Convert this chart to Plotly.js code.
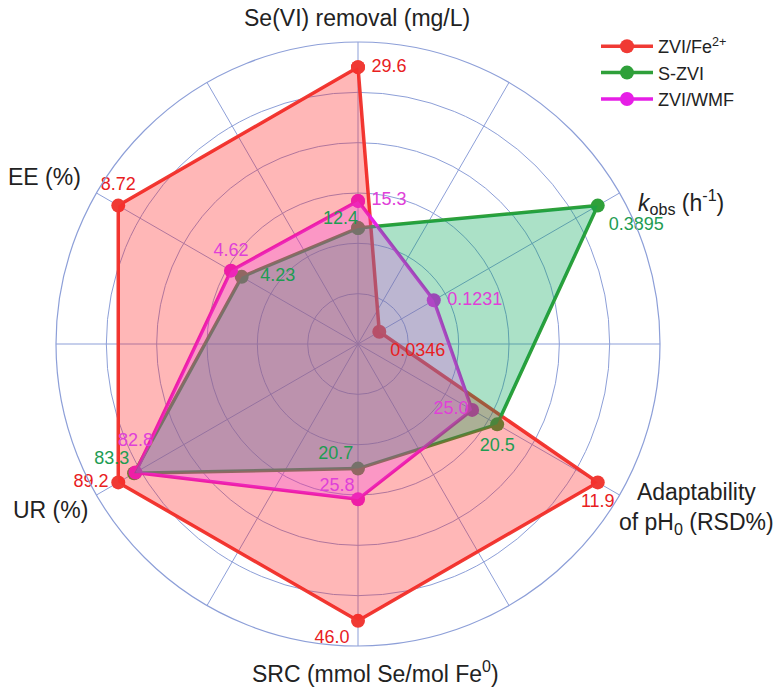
<!DOCTYPE html>
<html>
<head>
<meta charset="utf-8">
<script src="https://cdn.plot.ly/plotly-3.0.1.min.js"></script>
<style>html,body{margin:0;padding:0;background:#fff;}#chart{width:780px;height:688px;}</style>
</head>
<body>
<div id="chart"></div>
<script>
// Axes (clockwise from top)
const axisNames = ["Se(VI) removal", "kobs", "Adaptability of pH0", "SRC", "UR", "EE"];
// Best value on each axis (drawn at the same radius); adaptability (RSD%) is "lower is better"
const axisBest = [29.6, 0.3895, 11.9, 46.0, 89.2, 8.72];
const axisInverse = [false, false, true, false, false, false];

const seriesNames = ["ZVI/Fe<sup>2+</sup>", "S-ZVI", "ZVI/WMF"];
const valsFe2 = [29.6, 0.0346, 11.9, 46.0, 89.2, 8.72];
const valsSZVI = [12.4, 0.3895, 20.5, 20.7, 83.3, 4.23];
const valsWMF = [15.3, 0.1231, 25.0, 25.8, 82.8, 4.62];
const labelsFe2 = ["29.6", "0.0346", "11.9", "46.0", "89.2", "8.72"];
const labelsSZVI = ["12.4", "0.3895", "20.5", "20.7", "83.3", "4.23"];
const labelsWMF = ["15.3", "0.1231", "25.0", "25.8", "82.8", "4.62"];

const lineColors = ["#f03a34", "#2fa03a", "#e61ee6"];
const fillColors = ["rgba(255,30,30,0.32)", "rgba(0,165,85,0.33)", "rgba(240,60,240,0.26)"];
const textColors = ["#e8201e", "#1e9c52", "#e040d8"];
// label placement around each point (position + spacing from the point)
const textPos = [
  ["middle right", "bottom right", "bottom center", "bottom left", "middle left", "top center"],
  ["top left", "bottom right", "bottom center", "top left", "top left", "middle right"],
  ["middle right", "middle right", "middle left", "top left", "top center", "top center"]
];
const textGap = [
  [20, 16, 16, 12, 14, 16],
  [0, 16, 20, 6, 6, 28],
  [20, 20, 4, 4, 34, 14]
];

const n = axisNames.length;
const theta = axisNames.map((_, i) => i * 360 / n);
function norm(vals) {
  return vals.map((v, i) => axisInverse[i] ? axisBest[i] / v : v / axisBest[i]);
}
const allVals = [valsFe2, valsSZVI, valsWMF];
const allLabels = [labelsFe2, labelsSZVI, labelsWMF];
const FONT = "Liberation Sans, Arial, sans-serif";

const traces = [];
// lines + markers first
allVals.forEach((vals, s) => {
  const r = norm(vals);
  traces.push({
    type: "scatterpolar", mode: "lines+markers",
    r: r.concat([r[0]]), theta: theta.concat([theta[0]]),
    name: seriesNames[s],
    line: {color: lineColors[s], width: 3.5},
    marker: {color: lineColors[s], size: 14, line: {width: 0}},
    hoverinfo: "skip"
  });
});
// fills drawn on top of all lines
allVals.forEach((vals, s) => {
  const r = norm(vals);
  traces.push({
    type: "scatterpolar", mode: "lines", fill: "toself",
    r: r, theta: theta, showlegend: false,
    fillcolor: fillColors[s], line: {width: 0, color: "rgba(0,0,0,0)"},
    hoverinfo: "skip"
  });
});
// value labels
allVals.forEach((vals, s) => {
  const r = norm(vals);
  traces.push({
    type: "scatterpolar", mode: "markers+text",
    r: r, theta: theta, showlegend: false,
    text: allLabels[s], textposition: textPos[s],
    textfont: {family: FONT, size: 18, color: textColors[s]},
    marker: {size: textGap[s], color: "rgba(0,0,0,0)", line: {width: 0, color: "rgba(0,0,0,0)"}},
    hoverinfo: "skip"
  });
});

const W = 780, H = 688;
function px(x) { return x / W; }
function py(y) { return 1 - y / H; }
const gridCol = "#8d9fd8";
const annFont = {family: FONT, size: 23, color: "#222"};

const layout = {
  width: W, height: H,
  margin: {l: 0, r: 0, t: 0, b: 0},
  paper_bgcolor: "#fff",
  showlegend: true,
  legend: {
    x: px(596), y: py(28), xanchor: "left", yanchor: "top",
    font: {family: FONT, size: 18, color: "#222"},
    bgcolor: "rgba(0,0,0,0)", tracegroupgap: 0, itemwidth: 52
  },
  polar: {
    domain: {x: [px(56), px(660)], y: [py(646), py(42)]},
    bgcolor: "rgba(0,0,0,0)",
    radialaxis: {
      range: [0, 1.2 / 1.1], tick0: 0, dtick: 0.2 / 1.1,
      showticklabels: false, ticks: "", showline: false,
      gridcolor: gridCol, gridwidth: 1
    },
    angularaxis: {
      type: "linear", thetaunit: "degrees", rotation: 90, direction: "clockwise",
      dtick: 30, showticklabels: false, ticks: "",
      showline: true, linecolor: gridCol, linewidth: 1.2,
      gridcolor: gridCol, gridwidth: 1
    }
  },
  annotations: [
    {text: "Se(VI) removal (mg/L)", x: px(357), y: py(18), xanchor: "center", yanchor: "middle"},
    {text: "<i>k</i><sub>obs</sub> (h<sup>-1</sup>)", x: px(636), y: py(202), xanchor: "left", yanchor: "middle"},
    {text: "EE (%)", x: px(6), y: py(177), xanchor: "left", yanchor: "middle"},
    {text: "UR (%)", x: px(11), y: py(510), xanchor: "left", yanchor: "middle"},
    {text: "Adaptability<br>of pH<sub>0</sub> (RSD%)", x: px(696), y: py(508), xanchor: "center", yanchor: "middle", align: "center"},
    {text: "SRC (mmol Se/mol Fe<sup>0</sup>)", x: px(375), y: py(672), xanchor: "center", yanchor: "middle"}
  ].map(a => Object.assign({xref: "paper", yref: "paper", showarrow: false, font: annFont}, a))
};

Plotly.newPlot("chart", traces, layout, {displayModeBar: false, staticPlot: true});
</script>
</body>
</html>
